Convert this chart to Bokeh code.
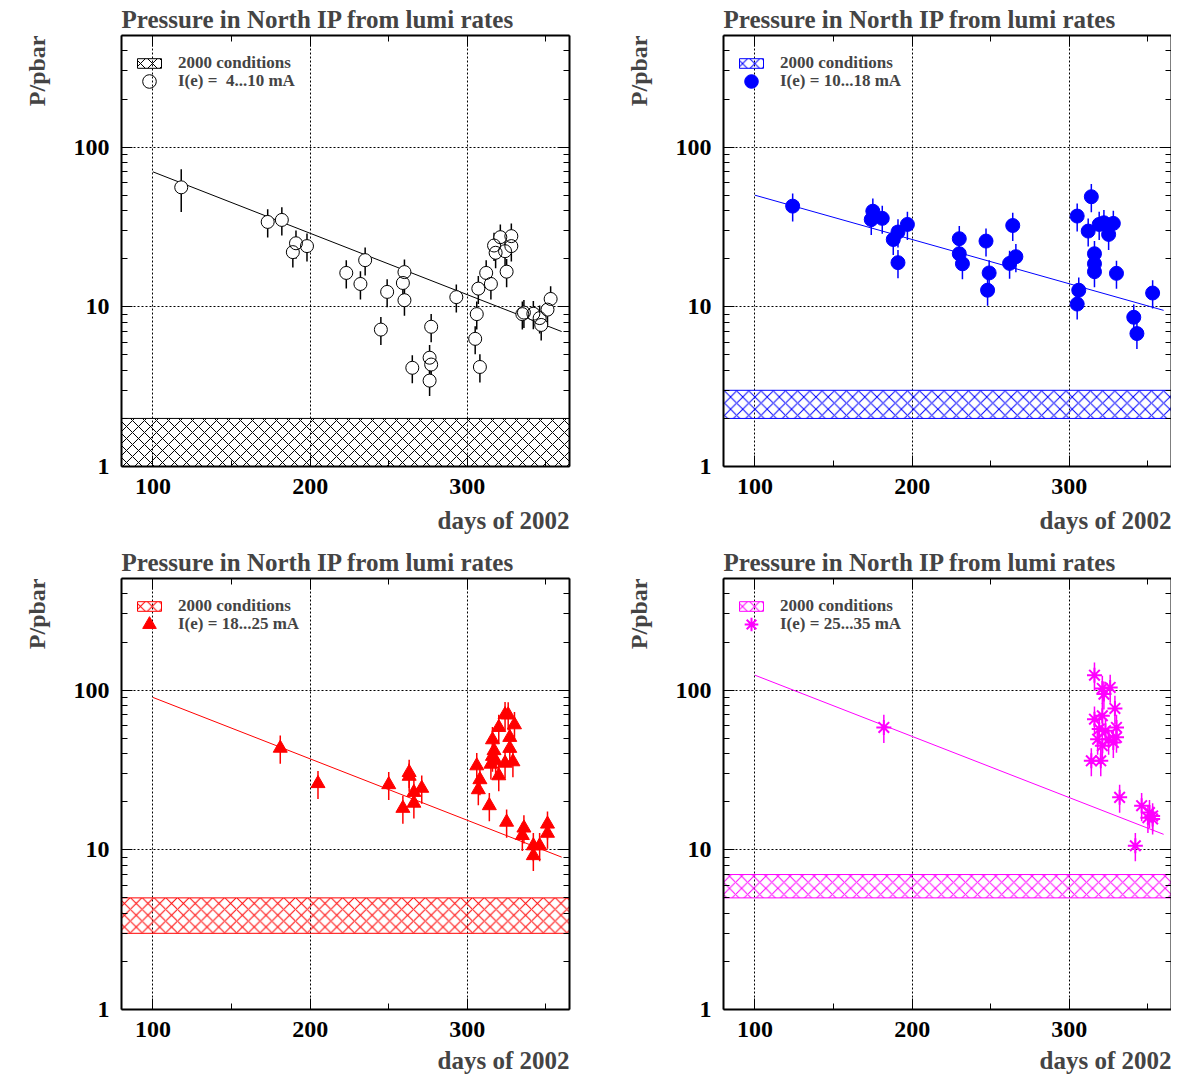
from bokeh.plotting import figure
from bokeh.models import (FixedTicker, LinearAxis, LogAxis, Title, Legend, LegendItem)
from bokeh.layouts import gridplot
from bokeh.embed import file_html
from bokeh.resources import INLINE

FONT = "Liberation Serif"

# ---------------- data ----------------
title_text = "Pressure in North IP from lumi rates"
x_label = "days of 2002"
y_label = "P/pbar"
band_label = "2000 conditions"

# panel 1 : I(e) = 4...10 mA
label1 = "I(e) =  4...10 mA"
days1 = [118, 173, 182, 189, 191, 198, 223, 232, 235, 245,
         249, 259, 260, 260, 265, 276, 276, 277, 277, 293,
         305, 306, 307, 308, 312, 315, 317, 318, 321, 324,
         325, 328, 328, 335, 336, 342, 346, 347, 351, 353]
vals1 = [56, 34, 35, 22, 25, 24, 16.3, 13.9, 19.6, 7.2,
         12.4, 14.1, 16.5, 11.0, 4.15, 3.45, 4.8, 4.35, 7.5, 11.5,
         6.3, 9.0, 13.0, 4.2, 16.3, 13.9, 24.2, 21.8, 27.3, 22.3,
         16.6, 27.7, 24.0, 9.0, 9.2, 9.05, 8.5, 7.7, 9.6, 11.2]
relerr1 = [0.3, 0.2, 0.2, 0.2, 0.2, 0.2, 0.2, 0.2, 0.2, 0.2,
           0.2, 0.2, 0.2, 0.2, 0.2, 0.2, 0.2, 0.2, 0.2, 0.2,
           0.2, 0.2, 0.2, 0.2, 0.2, 0.2, 0.2, 0.2, 0.2, 0.2,
           0.2, 0.2, 0.2, 0.2, 0.2, 0.2, 0.2, 0.2, 0.2, 0.2]
fit_days1 = [100, 360]
fit_vals1 = [70, 7.0]
band1 = (1, 2)

# panel 2 : I(e) = 10...18 mA
label2 = "I(e) = 10...18 mA"
days2 = [124, 174, 175, 181, 188, 191, 191, 197, 230, 230,
         232, 247, 248, 249, 262, 264, 266, 305, 305, 306,
         312, 314, 316, 316, 316, 319, 322, 325, 328, 330,
         341, 343, 353]
vals2 = [42.7, 35.2, 39.7, 35.8, 26.4, 29.4, 18.9, 32.8, 26.7, 21.5,
         18.6, 25.8, 12.7, 16.3, 18.7, 32.3, 20.6, 10.4, 37, 12.7,
         29.8, 48.9, 21.5, 18.6, 16.6, 32.8, 33.6, 28.4, 33.3, 16.2,
         8.6, 6.8, 12.2]
relerr2 = [0.2, 0.2, 0.2, 0.2, 0.2, 0.2, 0.2, 0.2, 0.2, 0.2,
           0.2, 0.2, 0.2, 0.2, 0.2, 0.2, 0.2, 0.2, 0.2, 0.2,
           0.2, 0.2, 0.2, 0.2, 0.2, 0.2, 0.2, 0.2, 0.2, 0.2,
           0.2, 0.2, 0.2]
fit_days2 = [100, 360]
fit_vals2 = [50, 9.5]
band2 = (2, 3)

# panel 3 : I(e) = 18...25 mA
label3 = "I(e) = 18...25 mA"
days3 = [181, 205, 250, 259, 263, 263, 266, 266, 271, 306,
         307, 308, 314, 315, 316, 316, 317, 318, 320, 320,
         324, 324, 325, 326, 327, 327, 329, 330, 335, 336,
         342, 342, 346, 351, 351]
vals3 = [43.3, 26, 25.6, 18.2, 30.5, 28.9, 22.9, 19.6, 24.3, 33.6,
         23.8, 27.5, 18.9, 34.4, 38.5, 48.9, 41.8, 36.1, 29.1, 58.4,
         70.2, 34.9, 14.9, 70, 50.6, 43.2, 35.6, 60.7, 12.3, 13.7,
         10.6, 9.2, 10.6, 14.5, 12.7]
relerr3 = [0.2, 0.2, 0.2, 0.2, 0.2, 0.2, 0.2, 0.2, 0.2, 0.2,
           0.2, 0.2, 0.2, 0.2, 0.2, 0.2, 0.2, 0.2, 0.2, 0.2,
           0.2, 0.2, 0.2, 0.2, 0.2, 0.2, 0.2, 0.2, 0.2, 0.2,
           0.2, 0.2, 0.2, 0.2, 0.2]
fit_days3 = [100, 360]
fit_vals3 = [90, 9.0]
band3 = (3, 5)

# panel 4 : I(e) = 25...35 mA
label4 = "I(e) = 25...35 mA"
days4 = [182, 314, 316, 316, 318, 319, 320, 321, 321, 321,
         322, 323, 325, 326, 328, 329, 330, 330, 332, 342,
         346, 350, 351, 353, 353]
vals4 = [58.4, 36.1, 124, 65.8, 49.3, 57, 36.1, 102.5, 69.1, 44.9,
         94.4, 55.7, 49.3, 104, 47, 76.8, 58.4, 50.6, 21.3, 10.6,
         18.9, 15.9, 17.1, 16.3, 15.6]
relerr4 = [0.2, 0.2, 0.2, 0.2, 0.2, 0.2, 0.2, 0.2, 0.2, 0.2,
           0.2, 0.2, 0.2, 0.2, 0.2, 0.2, 0.2, 0.2, 0.2, 0.2,
           0.2, 0.2, 0.2, 0.2, 0.2]
fit_days4 = [100, 360]
fit_vals4 = [124, 12.5]
band4 = (5, 7)

x_major = [100, 200, 300]
x_minor = [100, 150, 200, 250, 300, 350]
y_major = [1, 10, 100]
y_minor = [2, 3, 4, 5, 6, 7, 8, 9, 20, 30, 40, 50, 60, 70, 80, 90, 200, 300, 400, 500]
x_lim = (80, 365)
y_lim = (1, 500)


def style_axis(ax, labels=True):
    ax.axis_line_width = 2
    ax.axis_line_color = "black"
    ax.major_tick_in = 11
    ax.major_tick_out = 0
    ax.minor_tick_in = 6
    ax.minor_tick_out = 0
    ax.major_tick_line_color = "black"
    ax.minor_tick_line_color = "black"
    ax.major_tick_line_width = 1
    ax.minor_tick_line_width = 1
    ax.major_label_text_font = FONT
    ax.major_label_text_font_style = "bold"
    ax.major_label_text_color = "black"
    if labels:
        ax.major_label_text_font_size = "24px"
        ax.major_label_standoff = 12
    else:
        ax.major_label_text_font_size = "1px"
        ax.major_label_standoff = 0
        ax.major_label_text_alpha = 0


def make_panel(days, vals, relerr, fdays, fvals, band, color, marker, label,
               top_row, left_col, hscale):
    p = figure(frame_width=448, frame_height=431,
               x_range=x_lim, y_range=y_lim, y_axis_type="log",
               output_backend="svg", toolbar_location=None,
               min_border_left=121, min_border_top=30,
               min_border_right=33 if left_col else 0,
               min_border_bottom=77 if top_row else 62)
    p.outline_line_color = None
    p.background_fill_color = "white"
    p.border_fill_color = "white"

    xt = FixedTicker(ticks=x_major, minor_ticks=x_minor)
    yt = FixedTicker(ticks=y_major, minor_ticks=y_minor)
    p.xaxis.ticker = xt
    p.yaxis.ticker = yt
    p.yaxis.major_label_overrides = {1: "1", 10: "10", 100: "100"}
    style_axis(p.xaxis[0])
    style_axis(p.yaxis[0])
    top = LinearAxis(ticker=xt)
    style_axis(top, labels=False)
    p.add_layout(top, "above")
    right = LogAxis(ticker=yt)
    style_axis(right, labels=False)
    p.add_layout(right, "right")

    for g in (p.xgrid[0], p.ygrid[0]):
        g.grid_line_color = "black"
        g.grid_line_dash = "2 2"
        g.grid_line_width = 1
    p.xgrid.ticker = xt
    p.ygrid.ticker = yt

    p.title.text = title_text
    p.title.align = "left"
    p.title.text_font = FONT
    p.title.text_font_style = "bold"
    p.title.text_font_size = "25px"
    p.title.standoff = 6

    # hatched band (2000 conditions)
    band_r = p.quad(left=[x_lim[0]], right=[x_lim[1]], bottom=[band[0]], top=[band[1]],
                    fill_color=None, line_color=color, line_width=1,
                    hatch_pattern="diagonal_cross", hatch_color=color,
                    hatch_scale=hscale, hatch_weight=1)

    # fit line
    p.line(fdays, fvals, line_color=color, line_width=1)

    # error bars
    lo = [v * (1 - e) for v, e in zip(vals, relerr)]
    hi = [v * (1 + e) for v, e in zip(vals, relerr)]
    p.segment(x0=days, y0=lo, x1=days, y1=hi, line_color=color, line_width=1.5)

    if marker == "open":
        p.scatter(days, vals, marker="circle", size=13, fill_color="white",
                  line_color=None)
        mk = p.scatter(days, vals, marker="circle", size=13, fill_color=None,
                       line_color=color, line_width=1)
    elif marker == "asterisk":
        mk = p.scatter(days, vals, marker="asterisk", size=15, fill_color=None,
                       line_color=color, line_width=2)
    else:
        mk = p.scatter(days, vals, marker=marker, size=14, fill_color=color,
                       line_color=color, line_width=1)

    leg1 = Legend(items=[LegendItem(label=band_label, renderers=[band_r])],
                  location=(13, 393), padding=0, margin=0, spacing=0,
                  glyph_width=30, glyph_height=12, label_height=12,
                  label_standoff=14, label_text_font=FONT,
                  label_text_font_style="bold", label_text_font_size="17px",
                  background_fill_alpha=0, border_line_alpha=0)
    p.add_layout(leg1)
    leg2 = Legend(items=[LegendItem(label=label, renderers=[mk])],
                  location=(11, 368), padding=0, margin=0, spacing=0,
                  glyph_width=34, glyph_height=34, label_height=34,
                  label_standoff=12, label_text_font=FONT,
                  label_text_font_style="bold", label_text_font_size="17px",
                  background_fill_alpha=0, border_line_alpha=0)
    p.add_layout(leg2)

    yl = Title(text=y_label, align="right", text_font=FONT, text_font_style="bold",
               text_font_size="24px", standoff=42)
    p.add_layout(yl, "left")
    xl = Title(text=x_label, align="right", text_font=FONT, text_font_style="bold",
               text_font_size="25px", standoff=17 if top_row else 10)
    p.add_layout(xl, "below")
    return p


p1 = make_panel(days1, vals1, relerr1, fit_days1, fit_vals1, band1, "black", "open", label1, True, True, 12)
p2 = make_panel(days2, vals2, relerr2, fit_days2, fit_vals2, band2, "#0000ff", "circle", label2, True, False, 12.2)
p3 = make_panel(days3, vals3, relerr3, fit_days3, fit_vals3, band3, "#ff0000", "triangle", label3, False, True, 11.8)
p4 = make_panel(days4, vals4, relerr4, fit_days4, fit_vals4, band4, "#ff00ff", "asterisk", label4, False, False, 12.1)

grid = gridplot([[p1, p2], [p3, p4]], toolbar_location=None)
open("out.html", "w").write(file_html(grid, INLINE))
